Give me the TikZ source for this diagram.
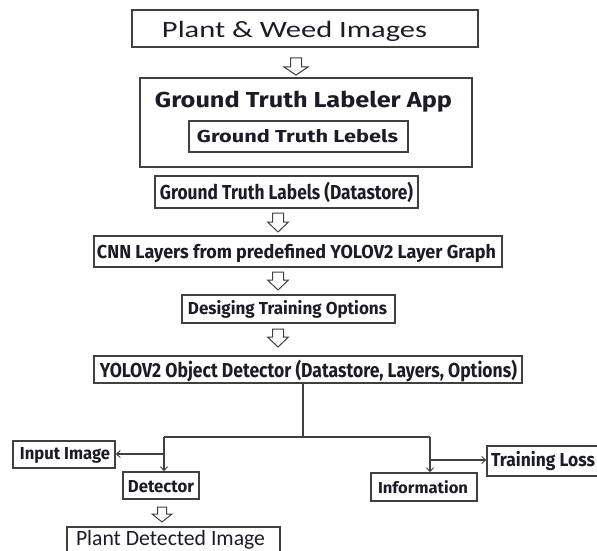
\documentclass[tikz,border=0pt]{standalone}
\usepackage{fontspec}
\usepackage{graphicx}
\setmainfont{Fira Sans}
\newfontfamily\calfont{Carlito}
\newfontfamily\dinfont{Fira Sans}
\usetikzlibrary{arrows.meta}
\definecolor{ink}{HTML}{1C1C28}
\definecolor{edge}{HTML}{404040}
\newcommand\fitt[3]{\resizebox{#1pt}{#2pt}{\raisebox{0pt}[\fontcharht\font`\H][0pt]{#3}}}
\newcommand\hollowarr[6]{%
  \draw[hollow] ({#1-#5/2},#2) -- ({#1+#5/2},#2) -- ({#1+#5/2},{#3-#6}) -- ({#1+#4/2},{#3-#6})
    -- (#1,#3) -- ({#1-#4/2},{#3-#6}) -- ({#1-#5/2},{#3-#6}) -- cycle;}
\tikzset{
  box/.style={draw=edge, line width=1.4pt, fill=white, inner sep=0pt},
  txt/.style={anchor=base, inner sep=0pt, text=ink},
  conn/.style={draw=edge, line width=1.2pt},
  tip/.style={-{Straight Barb[length=4pt,width=7pt,line width=0.9pt]}},
  hollow/.style={draw=edge, line width=1pt, fill=white, line join=miter}
}
\begin{document}
\begin{tikzpicture}[x=1pt,y=-1pt]
\useasboundingbox[fill=white] (0,0) rectangle (597,551);

% boxes
\node[box, minimum width=346pt, minimum height=37pt] (imgs) at (305,28.5) {};
\node[box, minimum width=332pt, minimum height=89pt] (app) at (306,122.5) {};
\node[box, minimum width=219pt, minimum height=31pt] (gtl) at (298.5,136.5) {};
\node[box, minimum width=263pt, minimum height=32pt] (ds) at (286.5,192) {};
\node[box, minimum width=408pt, minimum height=31pt] (cnn) at (298,251.5) {};
\node[box, minimum width=213pt, minimum height=28pt] (opt) at (288.5,309) {};
\node[box, minimum width=428pt, minimum height=27pt] (yolo) at (308,369.5) {};
\node[box, minimum width=102pt, minimum height=27pt] (inp) at (64,454.5) {};
\node[box, minimum width=76pt, minimum height=27pt] (det) at (161,485.5) {};
\node[box, minimum width=106pt, minimum height=28pt] (info) at (424,487) {};
\node[box, minimum width=118pt, minimum height=30pt] (loss) at (546,461) {};
\node[box, minimum width=213pt, minimum height=33pt] (pdi) at (173.5,543.5) {};

% texts
\node[txt] (timgs) at (294.5,38) {\calfont\fitt{265}{15}{Plant \& Weed Images}};
\node[txt] (tapp) at (303.5,107) {\dinfont\bfseries\fitt{297}{15}{Ground Truth Labeler App}};
\node[txt] (tgtl) at (297.5,142) {\dinfont\bfseries\fitt{201}{12}{Ground Truth Lebels}};
\node[txt] (tds) at (286.5,199) {\dinfont\bfseries\fitt{253}{14}{Ground Truth Labels (Datastore)}};
\node[txt] (tcnn) at (296.5,258) {\dinfont\bfseries\fitt{399}{13}{CNN Layers from predefined YOLOV2 Layer Graph}};
\node[txt] (topt) at (287.5,314) {\dinfont\bfseries\fitt{199}{12}{Desiging Training Options}};
\node[txt] (tyolo) at (308.5,377) {\dinfont\bfseries\fitt{417}{14}{YOLOV2 Object Detector (Datastore, Layers, Options)}};
\node[txt] (tinp) at (65,459) {\dinfont\bfseries\fitt{90}{12}{Input Image}};
\node[txt] (tdet) at (161,492) {\dinfont\bfseries\fitt{66}{12}{Detector}};
\node[txt] (tinfo) at (423,493) {\dinfont\bfseries\fitt{90}{11}{Information}};
\node[txt] (tloss) at (543,466) {\dinfont\bfseries\fitt{104}{13}{Training Loss}};
\node[txt] (tpdi) at (170.5,545.5) {\calfont\fitt{189}{14}{Plant Detected Image}};

% hollow block arrows
\hollowarr{296}{58}{75}{24}{11}{8}
\hollowarr{278}{213}{232}{21}{11}{10}
\hollowarr{278}{272}{290}{21}{11}{10}
\hollowarr{278}{329}{347}{21}{11}{10}
\hollowarr{162}{507}{522}{20}{9}{8}

% connectors
\coordinate (j0) at (303,437);
\coordinate (jl) at (164,437);
\coordinate (jr) at (430,437);
\coordinate (jli) at (164,454);
\coordinate (jri) at (430,460);
\draw[conn] (j0 |- yolo.south) -- (j0);
\draw[conn] (jl) -- (jr);
\draw[conn,tip] (jl) -- (jl |- det.north);
\draw[conn,tip] (jli) -- (jli -| inp.east);
\draw[conn,tip] (jr) -- (jr |- info.north);
\draw[conn,tip] (jri) -- (jri -| loss.west);
\end{tikzpicture}
\end{document}
